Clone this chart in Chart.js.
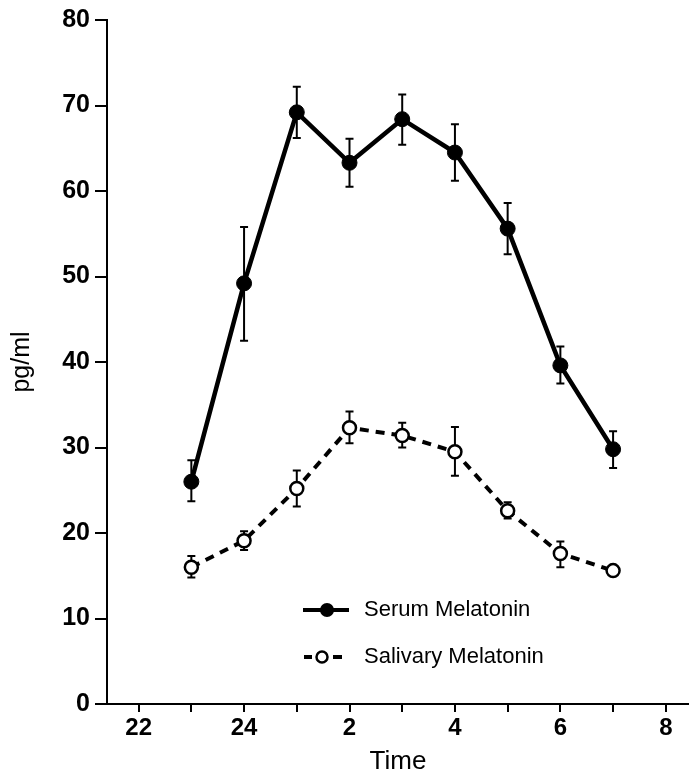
<!DOCTYPE html>
<html><head><meta charset="utf-8">
<script src="https://cdn.jsdelivr.net/npm/chart.js@4/dist/chart.umd.min.js"></script>
<style>html,body{margin:0;padding:0;background:#fff}#wrap{width:689px;height:777px}</style>
</head><body><div id="wrap"><canvas id="c" width="689" height="777"></canvas></div>
<script>
// ---- data ----
const clockHours   = [23, 24, 1, 2, 3, 4, 5, 6, 7];
const serumMean    = [26.0, 49.2, 69.2, 63.3, 68.4, 64.5, 55.6, 39.6, 29.8];
const serumUpper   = [28.5, 55.8, 72.2, 66.1, 71.3, 67.8, 58.6, 41.8, 31.9];
const serumLower   = [23.7, 42.5, 66.2, 60.5, 65.4, 61.2, 52.6, 37.5, 27.6];
const salivaMean   = [16.0, 19.1, 25.2, 32.3, 31.4, 29.5, 22.6, 17.6, 15.6];
const salivaUpper  = [17.3, 20.2, 27.3, 34.2, 32.9, 32.4, 23.6, 19.0, null];
const salivaLower  = [14.8, 18.0, 23.1, 30.5, 30.0, 26.7, 21.7, 16.0, null];
const seriesNames  = ['Serum Melatonin', 'Salivary Melatonin'];
const xTickValues  = [22, 24, 26, 28, 30, 32];
const xTickLabels  = ['22', '24', '2', '4', '6', '8'];
const yTicks       = [0, 10, 20, 30, 40, 50, 60, 70, 80];

const toAxis = h => (h < 12 ? h + 24 : h);
const pts = vals => clockHours.map((h, i) => ({ x: toAxis(h), y: vals[i] }));
const FONT = "'Liberation Sans', Arial, sans-serif";

const errorBars = {
  id: 'errorBars',
  beforeDatasetsDraw(chart) {
    const ctx = chart.ctx, xs = chart.scales.x, ys = chart.scales.y;
    ctx.save();
    ctx.strokeStyle = '#000';
    ctx.lineWidth = 2;
    chart.data.datasets.forEach(ds => {
      ds.data.forEach((p, i) => {
        const up = ds.errUpper[i], lo = ds.errLower[i];
        if (up == null) return;
        const x = xs.getPixelForValue(p.x);
        const y1 = ys.getPixelForValue(up), y2 = ys.getPixelForValue(lo);
        ctx.beginPath();
        ctx.moveTo(x, y1); ctx.lineTo(x, y2);
        ctx.moveTo(x - 4, y1); ctx.lineTo(x + 4, y1);
        ctx.moveTo(x - 4, y2); ctx.lineTo(x + 4, y2);
        ctx.stroke();
      });
    });
    ctx.restore();
  }
};

const inLegend = {
  id: 'inLegend',
  afterDraw(chart) {
    const ctx = chart.ctx;
    const ca = chart.chartArea;
    const x0 = ca.left + 196, textX = ca.left + 257;
    const rows = [ca.top + 590, ca.top + 637];
    ctx.save();
    ctx.fillStyle = '#000';
    ctx.strokeStyle = '#000';
    ctx.font = '22px ' + FONT;
    ctx.textBaseline = 'middle';
    // serum row
    let y = rows[0];
    ctx.lineWidth = 4;
    ctx.beginPath(); ctx.moveTo(x0, y); ctx.lineTo(x0 + 46, y); ctx.stroke();
    ctx.beginPath(); ctx.arc(x0 + 24, y, 7, 0, Math.PI * 2); ctx.fill();
    ctx.fillText(seriesNames[0], textX, y);
    // salivary row
    y = rows[1];
    ctx.beginPath(); ctx.moveTo(x0 + 1, y); ctx.lineTo(x0 + 9, y); ctx.stroke();
    ctx.beginPath(); ctx.moveTo(x0 + 30, y); ctx.lineTo(x0 + 39, y); ctx.stroke();
    ctx.lineWidth = 2.5;
    ctx.fillStyle = '#fff';
    ctx.beginPath(); ctx.arc(x0 + 19, y, 5.5, 0, Math.PI * 2); ctx.fill(); ctx.stroke();
    ctx.fillStyle = '#000';
    ctx.fillText(seriesNames[1], textX, y);
    ctx.restore();
  }
};

new Chart(document.getElementById('c'), {
  type: 'line',
  data: {
    datasets: [
      {
        label: seriesNames[0], data: pts(serumMean),
        errUpper: serumUpper, errLower: serumLower,
        borderColor: '#000', borderWidth: 4.5,
        pointRadius: 7.5, pointBackgroundColor: '#000', pointBorderColor: '#000', pointBorderWidth: 1,
        tension: 0
      },
      {
        label: seriesNames[1], data: pts(salivaMean),
        errUpper: salivaUpper, errLower: salivaLower,
        borderColor: '#000', borderWidth: 4, borderDash: [9, 7],
        pointRadius: 6.5, pointBackgroundColor: '#fff', pointBorderColor: '#000', pointBorderWidth: 2.5,
        tension: 0
      }
    ]
  },
  options: {
    responsive: false, animation: false, devicePixelRatio: 1,
    layout: { autoPadding: false, padding: { top: 20, right: 0, left: 0, bottom: 0 } },
    plugins: { legend: { display: false }, tooltip: { enabled: false } },
    scales: {
      x: {
        type: 'linear', min: 21.4, max: 32.44,
        afterFit: s => { s.height = 73; s.paddingRight = 0; s.paddingLeft = 0; },
        afterBuildTicks: s => { s.ticks = [22,23,24,25,26,27,28,29,30,31,32].map(v => ({ value: v })); },
        ticks: {
          color: '#000', padding: 2, maxRotation: 0, autoSkip: false,
          font: { family: FONT, size: 24, weight: 'bold' },
          callback: v => { const i = xTickValues.indexOf(v); return i >= 0 ? xTickLabels[i] : ''; }
        },
        grid: { drawOnChartArea: false, drawTicks: true, tickLength: 8, color: '#000', lineWidth: 2 },
        border: { display: true, color: '#000', width: 2 },
        title: { display: true, text: 'Time', color: '#000', font: { family: FONT, size: 26 }, padding: { top: 0, bottom: 0 } }
      },
      y: {
        type: 'linear', min: 0, max: 80,
        afterFit: s => { s.width = 107; },
        afterBuildTicks: s => { s.ticks = yTicks.map(v => ({ value: v })); },
        ticks: { color: '#000', padding: 5, font: { family: FONT, size: 25, weight: 'bold' } },
        grid: { drawOnChartArea: false, drawTicks: true, tickLength: 12, color: '#000', lineWidth: 2 },
        border: { display: true, color: '#000', width: 2 },
        title: { display: true, text: 'pg/ml', color: '#000', font: { family: FONT, size: 25 }, padding: { top: 7, bottom: 0 } }
      }
    }
  },
  plugins: [errorBars, inLegend]
});
</script></body></html>
